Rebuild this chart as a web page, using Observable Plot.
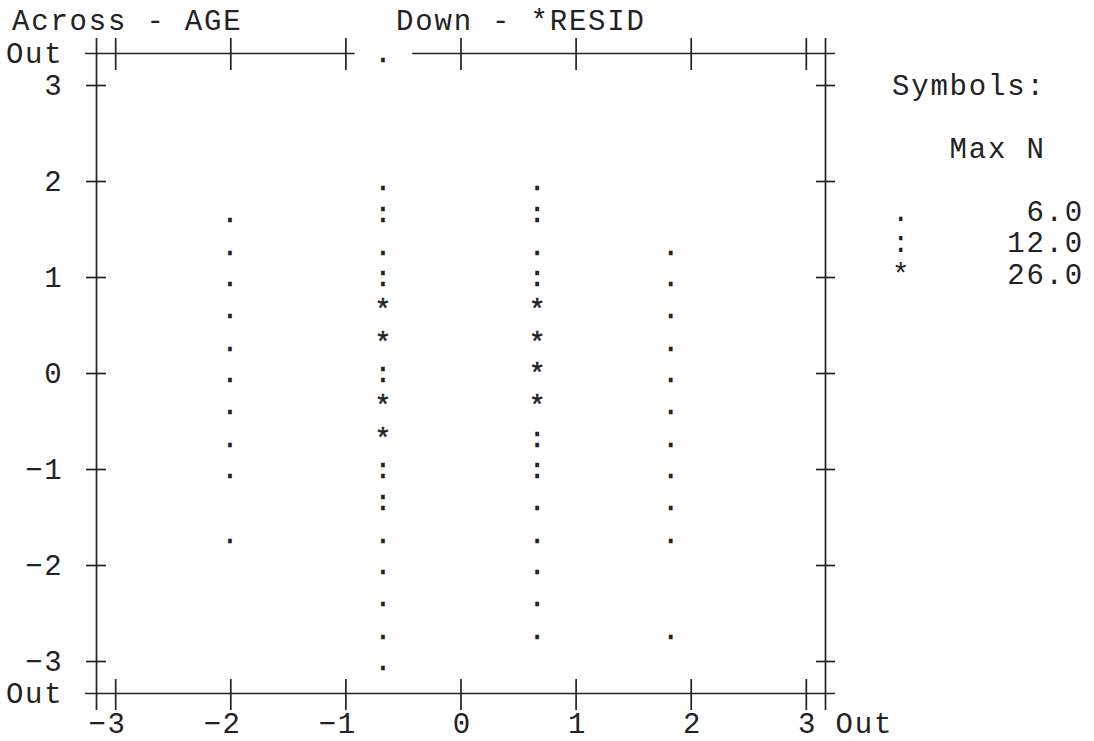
<!DOCTYPE html>
<html>
<head>
<meta charset="utf-8">
<script src="https://cdn.jsdelivr.net/npm/d3@7"></script>
<script src="https://cdn.jsdelivr.net/npm/@observablehq/plot@0.6"></script>
<style>
  html, body { margin: 0; padding: 0; background: #fff; }
  #wrap { position: relative; width: 1094px; height: 741px; overflow: hidden;
          font-family: "Liberation Mono", "DejaVu Sans Mono", monospace; font-size: 29px;
          letter-spacing: 1.8px; color: #222; }
  #title { position: absolute; left: 12px; top: 7px; white-space: pre; line-height: 32px; }
  #legend { position: absolute; left: 892px; top: 71.5px; white-space: pre; line-height: 31.5px; }
  #chart { position: absolute; left: 0; top: 0; }
  svg text { letter-spacing: 1.8px; }
</style>
</head>
<body>
<div id="wrap">
  <div id="chart"></div>
  <div id="title"></div>
  <div id="legend"></div>
</div>
<script>
// ---- Titles ----
const acrossLabel = "Across - AGE";
const downLabel = "Down - *RESID";

// ---- Axis ticks ----
const xTicks = [-3, -2, -1, 0, 1, 2, 3];
const yTicks = [-3, -2, -1, 0, 1, 2, 3];
const outLabel = "Out";

// ---- Legend ----
const legendSymbols = [".", ":", "*"];
const legendMaxN = [6.0, 12.0, 26.0];

// ---- Data: AGE column positions ----
const ageA = -2.0;
const ageB = -0.67;
const ageC = 0.67;
const ageD = 1.83;

// column A (AGE ≈ -2.0)
const residA = [1.67, 1.33, 1.0, 0.67, 0.33, 0.0, -0.33, -0.67, -1.0, -1.67];
const symA   = [".", ".", ".", ".", ".", ".", ".", ".", ".", "."];
// column B (AGE ≈ -0.67)
const residB = [2.0, 1.67, 1.33, 1.0, 0.67, 0.33, 0.0, -0.33, -0.67, -1.0, -1.33, -1.67, -2.0, -2.33, -2.67, -3.0];
const symB   = [".", ":", ".", ":", "*", "*", ":", "*", "*", ":", ":", ".", ".", ".", ".", "."];
// column C (AGE ≈ 0.67)
const residC = [2.0, 1.67, 1.33, 1.0, 0.67, 0.33, 0.0, -0.33, -0.67, -1.0, -1.33, -1.67, -2.0, -2.33, -2.67];
const symC   = [".", ":", ".", ":", "*", "*", "*", "*", ":", ":", ".", ".", ".", ".", "."];
// column D (AGE ≈ 1.83)
const residD = [1.33, 1.0, 0.67, 0.33, 0.0, -0.33, -0.67, -1.0, -1.33, -1.67, -2.67];
const symD   = [".", ".", ".", ".", ".", ".", ".", ".", ".", ".", "."];
// points beyond the top of the scale (plotted on the "Out" row)
const outHighAge = [-0.67];
const outHighSym = ["."];

// ---- Build table ----
const points = [];
[[ageA, residA, symA], [ageB, residB, symB], [ageC, residC, symC], [ageD, residD, symD]]
  .forEach(([age, rs, ss]) => rs.forEach((r, i) => points.push({age, resid: r, sym: ss[i]})));

// scale limits (the "Out" rows/columns of the character plot)
const X_OUT = 19 / 6;
const Y_OUT = 10 / 3;
const outPoints = outHighAge.map((a, i) => ({age: a, resid: Y_OUT, sym: outHighSym[i]}));
const allPoints = points.concat(outPoints);

const fmt = d => (d < 0 ? "\u2212" + Math.abs(d) : String(d));
const ink = "#222";
const lw = 1.7;

const chart = Plot.plot({
  width: 1094,
  height: 741,
  marginLeft: 96,
  marginRight: 269,
  marginTop: 53,
  marginBottom: 48,
  style: {fontFamily: "Liberation Mono, DejaVu Sans Mono, monospace", fontSize: "29px", color: ink, background: "transparent", overflow: "visible"},
  x: {domain: [-X_OUT, X_OUT], axis: null},
  y: {domain: [-Y_OUT, Y_OUT], axis: null},
  marks: [
    // frame lines
    Plot.ruleY([-Y_OUT, Y_OUT], {stroke: ink, strokeWidth: lw, insetLeft: -11, insetRight: -10}),
    Plot.ruleX([-X_OUT, X_OUT], {stroke: ink, strokeWidth: lw, insetTop: -15, insetBottom: -17}),
    // break in the top line where an out-of-range symbol sits
    Plot.ruleY(outPoints, {y: "resid", x1: d => d.age - 0.25, x2: d => d.age + 0.25, stroke: "white", strokeWidth: 6}),
    // crossing ticks
    Plot.ruleX(xTicks, {x: d => d, y1: Y_OUT, y2: Y_OUT, stroke: ink, strokeWidth: lw, insetTop: -15, insetBottom: -17}),
    Plot.ruleX(xTicks, {x: d => d, y1: -Y_OUT, y2: -Y_OUT, stroke: ink, strokeWidth: lw, insetTop: -14, insetBottom: -17}),
    Plot.ruleY(yTicks, {y: d => d, x1: -X_OUT, x2: -X_OUT, stroke: ink, strokeWidth: lw, insetLeft: -10, insetRight: -10}),
    Plot.ruleY(yTicks, {y: d => d, x1: X_OUT, x2: X_OUT, stroke: ink, strokeWidth: lw, insetLeft: -9, insetRight: -10}),
    // y labels (with Out rows)
    Plot.axisY({ticks: [-Y_OUT, ...yTicks, Y_OUT], anchor: "left", tickSize: 0, tickPadding: 33, label: null,
      tickFormat: d => (Math.abs(d) > 3.2 ? outLabel : fmt(d)), fill: ink}),
    // x labels
    Plot.text(xTicks, {x: d => d, frameAnchor: "bottom", text: d => fmt(d), textAnchor: "end",
      lineAnchor: "bottom", dx: 11, dy: 39, fill: ink}),
    Plot.text([X_OUT], {x: d => d, frameAnchor: "bottom", text: () => outLabel, textAnchor: "start",
      lineAnchor: "bottom", dx: 10, dy: 39, fill: ink}),
    // symbols
    Plot.text(allPoints, {x: "age", y: "resid", text: "sym", lineAnchor: "middle", fontSize: 28,
      fill: ink, stroke: ink, strokeWidth: 0.5})
  ]
});
document.getElementById("chart").appendChild(chart);

document.getElementById("title").textContent = acrossLabel + "        " + downLabel;
const legendLines = ["Symbols:", "", "   Max N", ""].concat(
  legendSymbols.map((s, i) => s + legendMaxN[i].toFixed(1).padStart(9))
);
document.getElementById("legend").textContent = legendLines.join("\n");
</script>
</body>
</html>
